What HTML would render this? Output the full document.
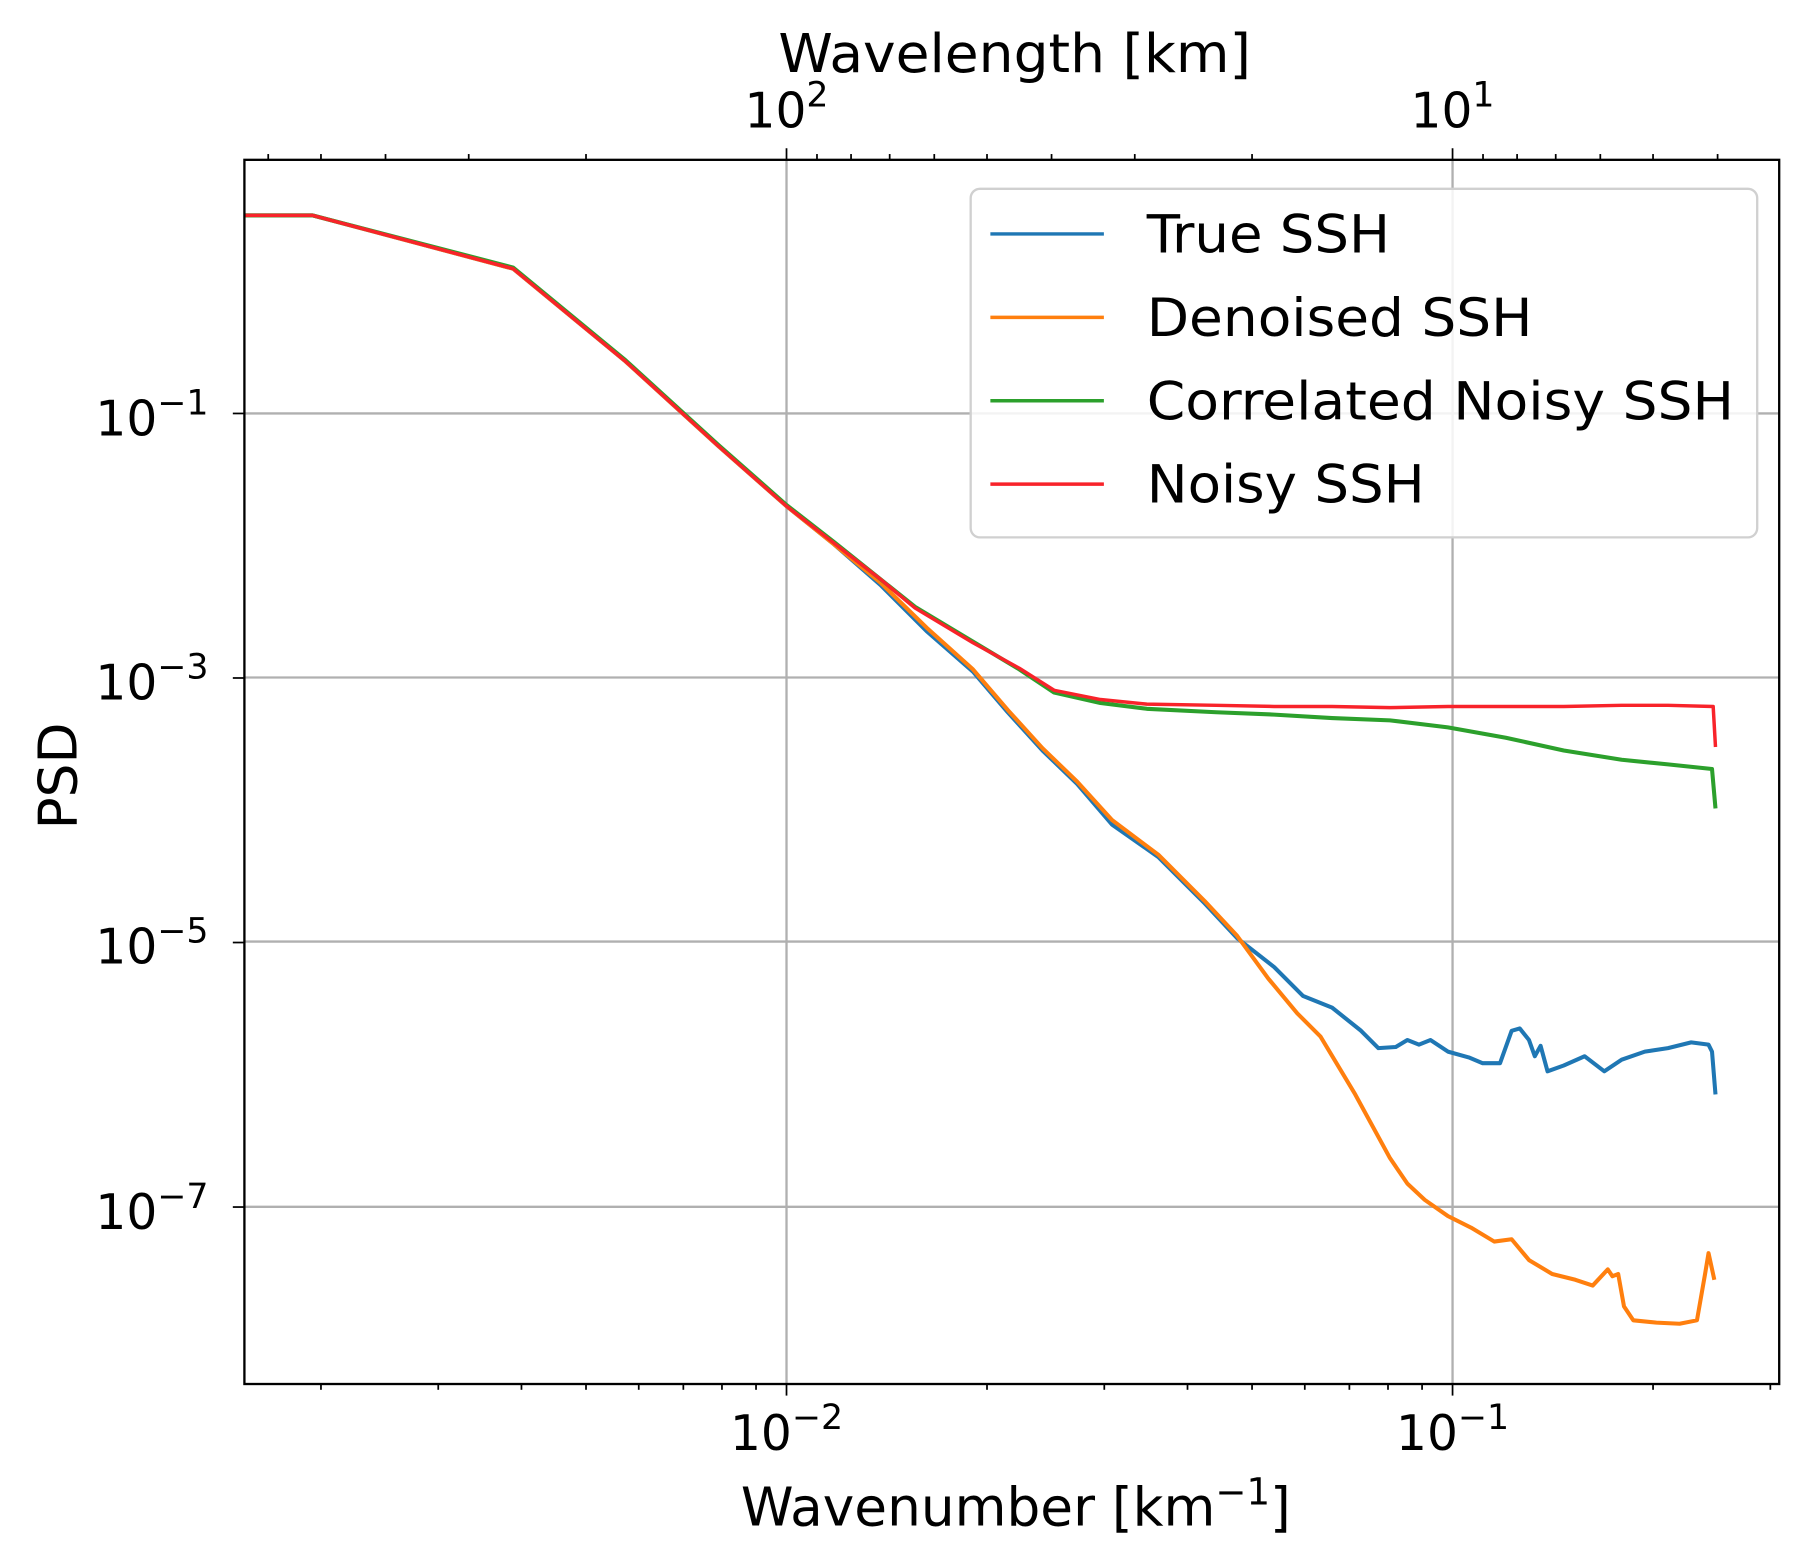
<!DOCTYPE html>
<html><head><meta charset="utf-8"><style>
html,body{margin:0;padding:0;background:#fff;}
svg{display:block;}
text{font-family:"DejaVu Sans","Liberation Sans",sans-serif;fill:#000;}
</style></head><body>
<svg width="1807" height="1567" viewBox="0 0 1560 1353" preserveAspectRatio="none" xmlns="http://www.w3.org/2000/svg">
<rect width="1560" height="1353" fill="#fff"/>
<g stroke="#b0b0b0" stroke-width="2">
<line x1="679" y1="138" x2="679" y2="1195"/><line x1="1254" y1="138" x2="1254" y2="1195"/>
<line x1="211" y1="357" x2="1536" y2="357"/><line x1="211" y1="585" x2="1536" y2="585"/>
<line x1="211" y1="813" x2="1536" y2="813"/><line x1="211" y1="1042" x2="1536" y2="1042"/>
</g>
<g id="ticks" stroke="#000" stroke-width="1.5"></g>
<g fill="none" stroke-width="3.5" stroke-linejoin="round">
<polyline stroke="#1f77b4" points="211,186 270,186 443,232 540,312 620,385 679,437 720,470 760,505 800,545 840,580 870,615 900,648 930,677 960,712 1000,740 1040,780 1068,810 1100,835 1125,860 1150,870 1175,890 1190,905 1205,904 1215,898 1225,902 1235,898 1250,908 1268,913 1280,918 1295,918 1305,890 1312,888 1320,898 1325,912 1330,903 1336,925 1350,920 1368,912 1385,925 1400,915 1420,908 1440,905 1460,900 1475,902 1478,908 1481,945"/>
<polyline stroke="#ff7f0e" points="211,186 270,186 443,232 540,312 620,385 679,437 720,470 760,503 800,542 840,578 870,613 900,646 930,675 960,708 1000,738 1040,778 1068,808 1095,845 1120,875 1140,895 1170,945 1200,1000 1215,1022 1230,1036 1250,1050 1270,1060 1290,1072 1305,1070 1320,1088 1340,1100 1360,1105 1375,1110 1388,1096 1392,1102 1397,1100 1402,1128 1410,1140 1430,1142 1450,1143 1465,1140 1472,1100 1475,1082 1480,1105"/>
<polyline stroke="#2ca02c" points="211,186 270,186 443,231 540,311 620,384 679,436 720,468 760,500 790,524 840,554 880,578 910,598 950,607 990,612 1050,615 1100,617 1150,620 1200,622 1250,628 1300,637 1350,648 1400,656 1440,660 1478,664 1481,698"/>
<polyline stroke="#f8232a" stroke-width="3" points="211,186 270,186 443,232 540,312 620,385 679,437 720,469 760,500 790,525 840,555 880,577 910,596 950,604 990,608 1050,609 1100,610 1150,610 1200,611 1250,610 1300,610 1350,610 1400,609 1440,609 1479,610 1481,645"/>
</g>
<rect x="211" y="138" width="1325" height="1057" fill="none" stroke="#000" stroke-width="2"/>
<rect x="838" y="163" width="679" height="301" rx="8" fill="#fff" fill-opacity="0.85" stroke="#d0d0d0" stroke-width="2"/>
<g stroke-width="3"><line x1="855" y1="202" x2="953" y2="202" stroke="#1f77b4"/><line x1="855" y1="274" x2="953" y2="274" stroke="#ff7f0e"/><line x1="855" y1="346" x2="953" y2="346" stroke="#2ca02c"/><line x1="855" y1="418" x2="953" y2="418" stroke="#f8232a"/></g>
<g font-size="45" lengthAdjust="spacingAndGlyphs"><text x="990" y="218" textLength="210" lengthAdjust="spacingAndGlyphs">True SSH</text><text x="990" y="290" textLength="333" lengthAdjust="spacingAndGlyphs">Denoised SSH</text><text x="990" y="362" textLength="507" lengthAdjust="spacingAndGlyphs">Correlated Noisy SSH</text><text x="990" y="434" textLength="240" lengthAdjust="spacingAndGlyphs">Noisy SSH</text></g>
<g font-size="42">
<text x="180" y="376" text-anchor="end">10<tspan dy="-18" font-size="30">−1</tspan></text>
<text x="180" y="604" text-anchor="end">10<tspan dy="-18" font-size="30">−3</tspan></text>
<text x="180" y="832" text-anchor="end">10<tspan dy="-18" font-size="30">−5</tspan></text>
<text x="180" y="1061" text-anchor="end">10<tspan dy="-18" font-size="30">−7</tspan></text>
<text x="679" y="1252" text-anchor="middle">10<tspan dy="-18" font-size="30">−2</tspan></text>
<text x="1254" y="1252" text-anchor="middle">10<tspan dy="-18" font-size="30">−1</tspan></text>
<text x="679" y="110" text-anchor="middle">10<tspan dy="-18" font-size="30">2</tspan></text>
<text x="1254" y="110" text-anchor="middle">10<tspan dy="-18" font-size="30">1</tspan></text>
</g>
<g font-size="46">
<text x="672" y="62" textLength="408" lengthAdjust="spacingAndGlyphs">Wavelength [km]</text>
<text x="877" y="1317" text-anchor="middle">Wavenumber [km<tspan dy="-18" font-size="32">−1</tspan><tspan dy="18">]</tspan></text>
<text transform="translate(66,670) rotate(-90)" text-anchor="middle">PSD</text>
</g>
</svg>
<script>
(function(){
var g=document.getElementById('ticks'),s='';
function X(v){return 679+575*Math.log10(v/0.01);}
function ln(x1,y1,x2,y2){s+='<line x1="'+x1+'" y1="'+y1+'" x2="'+x2+'" y2="'+y2+'"/>';}
[0.001,0.01,0.1].forEach(function(d){for(var m=1;m<10;m++){var v=d*m,x=X(v);if(x<211||x>1536)continue;var L=(m==1)?10:5;ln(x,1195,x,1195+L);}});
[1000,100,10,1].forEach(function(d){for(var m=1;m<10;m++){var lam=d*m,x=X(1/lam);if(x<211||x>1536)continue;var L=(m==1)?10:5;ln(x,138,x,138-L);}});
[-1,-3,-5,-7].forEach(function(e){var y=357+(-1-e)*114.2;ln(201,y,211,y);});
g.innerHTML=s;
})();
</script>
</body></html>
